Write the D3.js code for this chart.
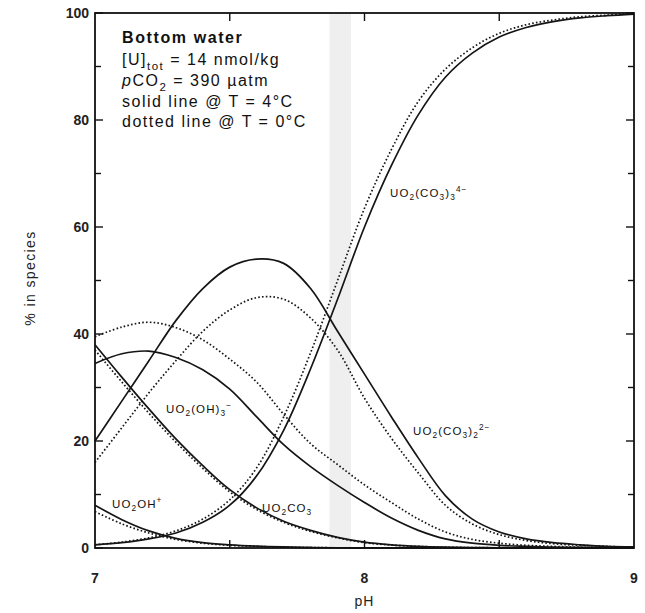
<!DOCTYPE html>
<html><head><meta charset="utf-8">
<script src="https://cdn.jsdelivr.net/npm/d3@7"></script>
<style>
body{margin:0;background:#fff;}
svg{display:block;font-family:"Liberation Sans",Arial,sans-serif;}
</style></head>
<body><svg id="c" width="645" height="613"></svg>
<script>
const pH = [7.0,7.1,7.2,7.3,7.4,7.5,7.6,7.7,7.8,7.9,8.0,8.1,8.2,8.3,8.4,8.5,8.6,8.7,8.8,8.9,9.0];
// solid = 4°C, dotted = 0°C
const tricarb4 = [0.6,1.0,1.7,2.8,4.8,8.0,13.5,22.0,33.5,46.5,60.0,71.5,81.0,88.0,92.5,95.5,97.3,98.4,99.1,99.5,99.8];
const tricarb0 = [0.6,1.1,1.9,3.2,5.4,9.0,15.0,24.5,36.5,50.0,63.5,74.5,83.5,89.5,93.5,96.2,97.8,98.7,99.3,99.6,99.9];
const dicarb4  = [20.0,27.5,35.0,42.5,48.5,52.5,54.0,53.2,48.5,40.5,32.5,24.5,16.8,9.8,5.4,3.0,1.7,1.0,0.6,0.3,0.2];
const dicarb0  = [16.0,22.5,29.0,35.0,40.5,44.5,46.8,46.5,43.0,37.0,28.0,20.5,14.0,8.0,4.5,2.5,1.4,0.8,0.5,0.3,0.1];
const carb4    = [38.0,31.9,26.0,20.4,15.4,10.9,7.5,5.0,3.3,2.0,1.1,0.6,0.3,0.15,0.08,0.04,0.02,0.01,0.0,0.0,0.0];
const carb0    = [37.0,31.0,25.2,19.8,14.9,10.5,7.2,4.8,3.1,1.9,1.0,0.55,0.3,0.15,0.08,0.04,0.02,0.01,0.0,0.0,0.0];
const hydr4    = [34.5,36.3,36.8,35.6,33.3,29.7,24.5,19.3,15.2,11.7,8.5,5.6,3.3,1.7,0.9,0.5,0.3,0.15,0.1,0.05,0.03];
const hydr0    = [39.5,41.3,42.2,41.2,38.9,35.3,31.0,25.0,19.5,15.6,11.8,8.5,5.4,3.0,1.6,0.9,0.5,0.3,0.15,0.1,0.05];
const oh4      = [8.0,5.3,3.2,1.8,1.0,0.6,0.35,0.2,0.1,0.05,0.03,0.02,0.01,0,0,0,0,0,0,0,0];
const oh0      = [6.8,4.5,2.8,1.6,0.9,0.5,0.3,0.17,0.08,0.04,0.02,0.01,0,0,0,0,0,0,0,0,0];
const band = [7.87, 7.95];
const xTicks = [7, 8, 9];
const xMinor = [7.5, 8, 8.5];
const yTicks = [0, 20, 40, 60, 80, 100];
const yMinor = [10, 30, 50, 70, 90];

const svg = d3.select("#c");
const x = d3.scaleLinear().domain([7, 9]).range([95, 634]);
const y = d3.scaleLinear().domain([0, 100]).range([548, 13]);

// band
svg.append("rect").attr("x", x(band[0])).attr("y", y(100)).attr("width", x(band[1]) - x(band[0]))
  .attr("height", y(0) - y(100)).attr("fill", "#efefef");

const line = d3.line().x((d, i) => x(pH[i])).y(d => y(Math.max(0, d))).curve(d3.curveCatmullRom.alpha(0.5));
const series = [
  [tricarb4, false], [tricarb0, true], [dicarb4, false], [dicarb0, true],
  [carb4, false], [carb0, true], [hydr4, false], [hydr0, true], [oh4, false], [oh0, true]
];
series.forEach(([vals, dotted]) => {
  svg.append("path").attr("d", line(vals)).attr("fill", "none")
    .attr("stroke", "#151515")
    .attr("stroke-width", 1.7)
    .attr("stroke-dasharray", dotted ? "1.6,2.2" : null);
});

// frame
svg.append("rect").attr("x", x(7)).attr("y", y(100)).attr("width", x(9) - x(7)).attr("height", y(0) - y(100))
  .attr("fill", "none").attr("stroke", "#111").attr("stroke-width", 1.8);

// ticks (inward)
const tk = svg.append("g").attr("stroke", "#111").attr("stroke-width", 1.4);
yTicks.concat(yMinor).forEach(v => {
  const L = yTicks.includes(v) ? 8 : 6;
  tk.append("line").attr("x1", x(7)).attr("x2", x(7) + L).attr("y1", y(v)).attr("y2", y(v));
  tk.append("line").attr("x1", x(9)).attr("x2", x(9) - L).attr("y1", y(v)).attr("y2", y(v));
});
xMinor.forEach(v => {
  tk.append("line").attr("x1", x(v)).attr("x2", x(v)).attr("y1", y(0)).attr("y2", y(0) - 8);
  tk.append("line").attr("x1", x(v)).attr("x2", x(v)).attr("y1", y(100)).attr("y2", y(100) + 8);
});

// tick labels
const lab = svg.append("g").attr("font-size", 14).attr("font-weight", "bold").attr("fill", "#222");
yTicks.forEach(v => {
  lab.append("text").attr("x", 89).attr("y", y(v)).attr("dy", "0.35em").attr("text-anchor", "end").text(v);
});
xTicks.forEach(v => {
  lab.append("text").attr("x", x(v)).attr("y", 583).attr("text-anchor", "middle").text(v);
});

// axis titles
svg.append("text").attr("x", x(8)).attr("y", 606).attr("text-anchor", "middle").attr("font-size", 14)
  .attr("letter-spacing", 1).attr("fill", "#222").text("pH");
svg.append("text").attr("transform", "translate(35," + 278 + ") rotate(-90)").attr("text-anchor", "middle")
  .attr("font-size", 14).attr("letter-spacing", 1.4).attr("fill", "#222").text("% in species");

// rich text helper
function rich(sel, parts) {
  let shift = 0;
  const base = parseFloat(sel.attr("font-size"));
  parts.forEach(([t, k, extra]) => {
    const ts = sel.append("tspan").text(t);
    const target = k === "sub" ? 0.3 : k === "sup" ? -0.45 : 0;
    if (k !== "n") ts.attr("font-size", "72%");
    const d = (target - shift) * base;
    if (d !== 0) ts.attr("dy", d);
    shift = target;
    if (extra === "i") ts.attr("font-style", "italic");
  });
}

// header block
const hx = 122;
const hdr = svg.append("g").attr("fill", "#111").attr("letter-spacing", 1.5);
hdr.append("text").attr("x", hx).attr("y", 43).attr("font-size", 16).attr("font-weight", "bold").attr("letter-spacing", 1.6).text("Bottom water");
rich(hdr.append("text").attr("x", hx).attr("y", 65).attr("font-size", 16),
  [["[U]", "n"], ["tot", "sub"], [" = 14 nmol/kg", "n"]]);
rich(hdr.append("text").attr("x", hx).attr("y", 86).attr("font-size", 16),
  [["p", "n", "i"], ["CO", "n"], ["2", "sub"], [" = 390 µatm", "n"]]);
hdr.append("text").attr("x", hx).attr("y", 107).attr("font-size", 16).text("solid line @ T = 4°C");
hdr.append("text").attr("x", hx).attr("y", 127).attr("font-size", 16).text("dotted line @ T = 0°C");

// species labels
const sp = svg.append("g").attr("fill", "#111").attr("letter-spacing", 1.1);
function spLabel(px, py, parts) {
  rich(sp.append("text").attr("x", px).attr("y", py).attr("font-size", 11.5), parts);
}
spLabel(390, 197, [["UO", "n"], ["2", "sub"], ["(CO", "n"], ["3", "sub"], [")", "n"], ["3", "sub"], ["4−", "sup"]]);
spLabel(413, 435, [["UO", "n"], ["2", "sub"], ["(CO", "n"], ["3", "sub"], [")", "n"], ["2", "sub"], ["2−", "sup"]]);
spLabel(166, 413, [["UO", "n"], ["2", "sub"], ["(OH)", "n"], ["3", "sub"], ["−", "sup"]]);
spLabel(262, 512, [["UO", "n"], ["2", "sub"], ["CO", "n"], ["3", "sub"]]);
spLabel(112, 508, [["UO", "n"], ["2", "sub"], ["OH", "n"], ["+", "sup"]]);
</script></body></html>
